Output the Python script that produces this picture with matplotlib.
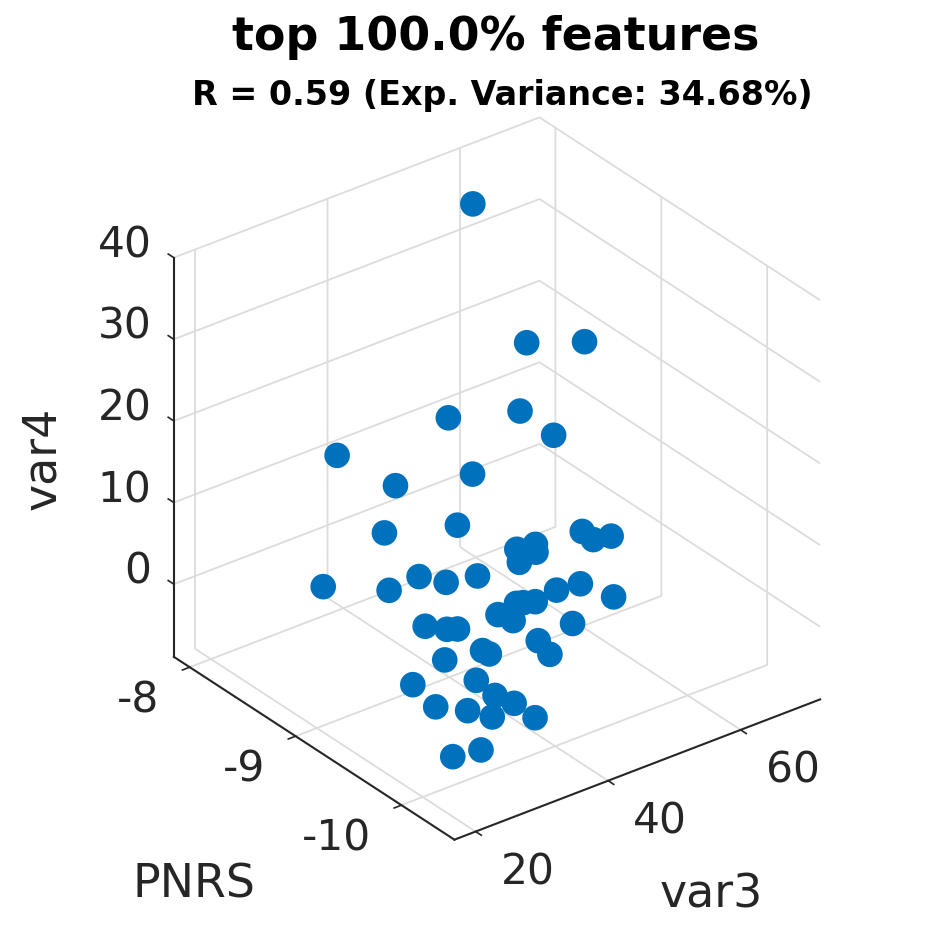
import matplotlib
matplotlib.use("Agg")
import matplotlib.pyplot as plt

# values
var3 = [56.5, 52.8, 56.9, 47.8, 38.1, 45.2, 26.1, 36.0, 25.8, 43.3,
        35.0, 50.8, 54.7, 55.0, 52.2, 44.6, 43.5, 47.7, 40.9, 32.4,
        40.8, 46.2, 24.8, 26.6, 49.8, 50.9, 43.1, 39.3, 49.3, 38.4,
        44.2, 45.5, 33.0, 30.7, 39.0, 40.8, 39.9, 34.7, 44.8, 33.4,
        36.4, 28.9, 33.0, 37.0, 28.2, 32.7, 32.1, 37.6, 28.0, 24.7]
pnrs = [-8.19, -8.93, -9.22, -9.18, -9.11, -9.66, -8.81, -9.47, -9.38, -8.87,
        -8.70, -9.58, -9.44, -9.59, -9.05, -9.35, -9.60, -9.18, -9.21, -9.19,
        -8.92, -9.85, -8.76, -9.27, -9.40, -9.87, -9.44, -9.74, -9.23, -9.56,
        -9.34, -9.82, -9.21, -9.56, -9.14, -9.79, -9.32, -9.71, -9.65, -9.37,
        -9.48, -9.35, -9.87, -9.80, -9.61, -9.63, -9.90, -9.96, -10.05, -9.99]
var4 = [37.1, 27.5, 28.8, 22.8, 24.4, 24.7, 21.0, 21.2, 22.2, 7.6,
        7.8, 10.5, 7.1, 8.7, 4.0, 8.3, 10.4, 4.3, 5.0, 7.4,
        1.8, 7.8, 4.9, 8.2, 2.1, 4.9, 2.9, 6.7, -0.6, 4.0,
        -0.4, 2.9, 1.3, 4.6, -1.5, 2.0, -2.9, 1.6, -2.1, -1.6,
        -4.1, -3.4, -1.6, -4.4, -3.7, -5.4, -3.7, -5.0, -5.2, -5.5]

xticks = [20, 40, 60]
yticks = [-10, -9, -8]
zticks = [0, 10, 20, 30, 40]

plt.rcParams["axes.unicode_minus"] = False
plt.rcParams["grid.color"] = "#dcdcdc"
plt.rcParams["grid.linewidth"] = 1.3

DARK = "#262626"

fig = plt.figure(figsize=(9.45, 9.45), dpi=100)
ax = fig.add_axes([99 / 945, 67.5 / 945, 775 / 945, 775 / 945], projection="3d")
ax.set_proj_type("ortho")
ax.view_init(elev=30, azim=-127.5)
ax.set_box_aspect((1, 1, 1))
ax.patch.set_alpha(0)

ax.scatter(var3, pnrs, var4, s=340, c="#0072BD", edgecolors="none", depthshade=False)

ax.set_xlim(16.8, 72, view_margin=0)
ax.set_ylim(-10.5, -7.85, view_margin=0)
ax.set_zlim(-8.9, 40, view_margin=0)
ax.set_xticks(xticks)
ax.set_yticks(yticks)
ax.set_zticks(zticks)
ax.tick_params(labelsize=30.5, labelcolor=DARK, color=DARK)

for axis in [ax.xaxis, ax.yaxis, ax.zaxis]:
    axis.set_pane_color((1, 1, 1, 0))
    axis.pane.set_edgecolor("none")
    axis.line.set_color(DARK)
    axis.line.set_linewidth(1.5)
    # the pane sits on the far side here, so "inward" points away from the box
    axis._axinfo["tick"]["inward_factor"] = 0.25
    axis._axinfo["tick"]["outward_factor"] = 0
    axis._axinfo["tick"]["linewidth"] = {True: 1.2, False: 0.5}
    axis._axinfo["tick"]["color"] = DARK

# var4 ticks run along the PNRS direction, going out past the left corner
ax.zaxis._get_tickdir = lambda pos: 1
ax.zaxis._axinfo["tick"]["inward_factor"] = 0
ax.zaxis._axinfo["tick"]["outward_factor"] = 0.25

ax.tick_params(axis="x", pad=18)
ax.tick_params(axis="y", pad=16)
ax.tick_params(axis="z", pad=2)
for lab in ax.get_xticklabels():
    lab.set_ha("left")
    lab.set_va("baseline")
for lab in ax.get_yticklabels():
    lab.set_ha("right")
    lab.set_va("baseline")
for lab in ax.get_zticklabels():
    lab.set_ha("right")
    lab.set_va("baseline")

fig.text(496 / 945, 1 - 38 / 945, "top 100.0% features", ha="center", va="center",
         fontsize=33, fontweight="bold")
fig.text(502 / 945, 1 - 96 / 945, "R = 0.59 (Exp. Variance: 34.68%)", ha="center", va="center",
         fontsize=24, fontweight="bold")
fig.text(194 / 945, 1 - 885 / 945, "PNRS", ha="center", va="center", fontsize=33, color=DARK)
fig.text(711 / 945, 1 - 895 / 945, "var3", ha="center", va="center", fontsize=33, color=DARK)
fig.text(43 / 945, 1 - 458 / 945, "var4", ha="center", va="center", fontsize=33, color=DARK,
         rotation=90)

fig.savefig("out.png", dpi=100)
